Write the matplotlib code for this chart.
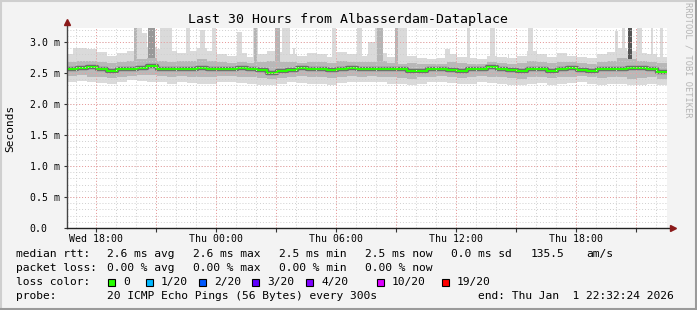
import numpy as np
import matplotlib
matplotlib.use('Agg')
import matplotlib.pyplot as plt
from matplotlib.patches import Rectangle
from matplotlib.lines import Line2D

# --- data: 30 hours in 0.5 h bins, values in ms ---
median = [2.56, 2.58, 2.60, 2.57, 2.54, 2.56, 2.56, 2.58, 2.61, 2.57, 2.56, 2.56, 2.57, 2.58, 2.56, 2.56,
          2.57, 2.58, 2.56, 2.55, 2.50, 2.54, 2.55, 2.58, 2.57, 2.56, 2.55, 2.57, 2.58, 2.57,
          2.56, 2.57, 2.56, 2.56, 2.53, 2.54, 2.56, 2.56, 2.55, 2.54, 2.57, 2.56, 2.60, 2.56, 2.55,
          2.54, 2.56, 2.57, 2.53, 2.57, 2.58, 2.55, 2.54, 2.57, 2.57, 2.56, 2.58, 2.58, 2.56, 2.52]
light_hi = [2.80, 2.90, 2.88, 2.84, 2.78, 2.82, 2.86, 2.90, 2.92, 2.88, 2.85, 2.83, 2.86, 2.90, 2.85, 2.80,
            2.78, 2.82, 2.76, 2.80, 2.86, 2.84, 2.80, 2.78, 2.82, 2.80, 2.76, 2.84, 2.80, 2.78,
            2.80, 2.82, 2.76, 2.74, 2.78, 2.75, 2.72, 2.74, 2.80, 2.76, 2.74, 2.72, 2.78, 2.76, 2.74,
            2.78, 2.86, 2.80, 2.76, 2.82, 2.78, 2.76, 2.74, 2.80, 2.84, 2.90, 2.86, 2.82, 2.80, 2.76]
mid_hi = [2.68, 2.70, 2.69, 2.67, 2.66, 2.68, 2.70, 2.72, 2.74, 2.70, 2.68, 2.69, 2.70, 2.72, 2.69, 2.67,
          2.66, 2.68, 2.66, 2.67, 2.70, 2.68, 2.67, 2.66, 2.68, 2.67, 2.66, 2.69, 2.68, 2.67,
          2.68, 2.69, 2.66, 2.65, 2.66, 2.65, 2.64, 2.65, 2.67, 2.66, 2.65, 2.64, 2.67, 2.66, 2.65,
          2.66, 2.70, 2.67, 2.66, 2.68, 2.67, 2.66, 2.65, 2.67, 2.70, 2.74, 2.72, 2.69, 2.68, 2.66]
mid_lo = [2.45, 2.46, 2.44, 2.43, 2.42, 2.44, 2.45, 2.46, 2.47, 2.45, 2.44, 2.45, 2.44, 2.43, 2.44, 2.45,
          2.45, 2.44, 2.43, 2.42, 2.40, 2.42, 2.44, 2.45, 2.44, 2.43, 2.42, 2.44, 2.45, 2.44,
          2.45, 2.44, 2.43, 2.42, 2.41, 2.43, 2.44, 2.45, 2.43, 2.42, 2.44, 2.45, 2.44, 2.43, 2.42,
          2.41, 2.43, 2.44, 2.42, 2.43, 2.44, 2.45, 2.43, 2.42, 2.44, 2.43, 2.41, 2.42, 2.43, 2.40]
light_lo = [2.36, 2.37, 2.35, 2.34, 2.33, 2.36, 2.38, 2.37, 2.36, 2.35, 2.33, 2.35, 2.34, 2.32, 2.33, 2.35,
            2.36, 2.34, 2.32, 2.30, 2.31, 2.33, 2.35, 2.34, 2.33, 2.32, 2.31, 2.34, 2.36, 2.35,
            2.36, 2.35, 2.33, 2.32, 2.31, 2.33, 2.35, 2.36, 2.34, 2.32, 2.33, 2.35, 2.34, 2.32, 2.31,
            2.30, 2.32, 2.34, 2.31, 2.33, 2.34, 2.36, 2.33, 2.31, 2.33, 2.32, 2.30, 2.31, 2.33, 2.31]

# tall outlier columns: (start hour, end hour, top ms, shade)
spikes = [(0.30, 0.90, 2.90, 'l'), (3.35, 3.75, 3.25, 'l'), (3.35, 3.50, 3.25, 'm'),
          (3.75, 4.00, 3.15, 'l'), (4.05, 4.40, 3.25, 'd'), (4.65, 5.25, 3.25, 'l'),
          (5.95, 6.15, 3.25, 'l'), (6.65, 6.90, 3.20, 'l'), (7.25, 7.45, 3.25, 'l'),
          (8.50, 8.75, 3.16, 'l'), (9.30, 9.55, 3.25, 'l'), (9.35, 9.50, 3.25, 'm'),
          (10.40, 10.65, 3.25, 'm'), (10.75, 11.15, 3.25, 'l'), (11.30, 11.40, 2.90, 'l'),
          (13.25, 13.45, 3.25, 'l'), (14.50, 14.75, 3.25, 'l'), (15.05, 15.40, 3.00, 'l'),
          (15.40, 15.80, 3.25, 'l'), (15.50, 15.80, 3.25, 'm'), (16.40, 16.55, 3.25, 'm'),
          (16.55, 17.00, 3.25, 'l'), (18.90, 19.15, 2.88, 'l'), (20.00, 20.15, 3.25, 'l'),
          (21.15, 21.40, 3.25, 'l'), (22.05, 22.10, 2.80, 'l'), (23.05, 23.30, 3.25, 'l'),
          (27.40, 27.55, 3.17, 'l'), (27.75, 27.90, 3.25, 'l'), (28.05, 28.25, 3.25, 'k'),
          (28.50, 28.75, 3.25, 'l'), (29.20, 29.30, 3.25, 'l'), (29.65, 29.80, 3.25, 'l')]

# start is Wed 16:32:24, first full hour 17:00 -> 0.46 h
first_hour = 0.46
x_labels = ['Wed 18:00', 'Thu 00:00', 'Thu 06:00', 'Thu 12:00', 'Thu 18:00']
y_ticks = [0.0, 0.5, 1.0, 1.5, 2.0, 2.5, 3.0]
y_labels = ['0.0', '0.5 m', '1.0 m', '1.5 m', '2.0 m', '2.5 m', '3.0 m']

loss_labels = ['0', '1/20', '2/20', '3/20', '4/20', '10/20', '19/20']
loss_colors = ['#26ff00', '#00b8ff', '#0059ff', '#5e00ff', '#7e00ff', '#dd00ff', '#ff0000']

W, H = 697, 310
def fx(px):
    return px / W
def fy(py):
    return 1 - py / H

mono = 'DejaVu Sans Mono'
fig = plt.figure(figsize=(W / 100, H / 100), dpi=100, facecolor='#f3f3f3')
ax = fig.add_axes([fx(67), fy(228), 600 / W, 200 / H])
ax.set_facecolor('white')

edges = np.arange(len(median) + 1) * 0.5
ext = lambda a: np.append(a, a[-1])
shades = {'l': '#dadada', 'm': '#b5b5b5', 'd': '#999999', 'k': '#555555'}

ax.fill_between(edges, ext(light_lo), ext(light_hi), step='post', color='#dadada', lw=0, zorder=1)
for h0, h1, top, s in spikes:
    ax.bar(h0, top - 2.6, width=h1 - h0, bottom=2.6, align='edge', color=shades[s], lw=0, zorder=1.5)
ax.fill_between(edges, ext(mid_lo), ext(mid_hi), step='post', color='#b8b8b8', lw=0, zorder=2)
ax.step(edges, ext(median), where='post', color='#6e6e6e', lw=3.2, zorder=3)
ax.step(edges, ext(median), where='post', color='#26ff00', lw=1.5, zorder=4)

ax.set_xlim(0, 30)
ax.set_ylim(0, 3.226)

# grid
minor_x = np.arange(first_hour, 30, 1.0)
major_x = np.arange(first_hour + 1, 30, 3.0)
for xv in minor_x:
    ax.axvline(xv, color='#cfcfcf', lw=0.7, ls=(0, (1, 2)), zorder=5)
for yv in np.arange(0.1, 3.25, 0.1):
    ax.axhline(yv, color='#cfcfcf', lw=0.7, ls=(0, (1, 2)), zorder=5)
for xv in major_x:
    ax.axvline(xv, color='#eb9a9a', lw=0.7, ls=(0, (1, 2)), zorder=6)
for yv in y_ticks[1:]:
    ax.axhline(yv, color='#eb9a9a', lw=0.7, ls=(0, (1, 2)), zorder=6)

for sp in ax.spines.values():
    sp.set_visible(False)
ax.plot([0, 0], [0, 3.3], color='#444444', lw=1, clip_on=False, zorder=7)
ax.plot([0, 30.3], [0, 0], color='#222222', lw=1, clip_on=False, zorder=7)
ax.plot([0], [3.33], marker='^', ms=4, color='#8b1a1a', clip_on=False, zorder=8)
ax.plot([30.3], [0], marker='>', ms=4, color='#8b1a1a', clip_on=False, zorder=8)

ax.set_xticks(major_x, [x_labels[i // 2] if i % 2 == 0 else '' for i in range(len(major_x))])
ax.set_yticks(y_ticks, y_labels)
ax.tick_params(axis='x', length=3, width=0.8, color='#333333', pad=1.5, labelsize=7.1)
ax.tick_params(axis='y', length=2, width=0.8, color='#333333', pad=25, labelsize=7.1)
for lb in ax.get_xticklabels() + ax.get_yticklabels():
    lb.set_fontfamily(mono)
for lb in ax.get_yticklabels():
    lb.set_horizontalalignment('left')

fig.text(fx(348), fy(19), 'Last 30 Hours from Albasserdam-Dataplace', ha='center', va='center',
         fontsize=9.5, family=mono)
fig.text(fx(10), fy(128), 'Seconds', rotation=90, ha='center', va='center', fontsize=8, family=mono)
fig.text(fx(688), fy(60), 'RRDTOOL / TOBI OETIKER', rotation=270, ha='center', va='center',
         fontsize=6.2, family=mono, color='#b5b5b5')

fs = 8.1
rows = [
    (254, [(16, 'median rtt:'), (107, '2.6 ms avg'), (193, '2.6 ms max'), (279, '2.5 ms min'),
           (365, '2.5 ms now'), (451, '0.0 ms sd'), (531, '135.5'), (586, 'am/s')]),
    (268, [(16, 'packet loss:'), (107, '0.00 % avg'), (193, '0.00 % max'), (279, '0.00 % min'),
           (365, '0.00 % now')]),
    (282, [(16, 'loss color:')]),
    (296, [(16, 'probe:'), (107, '20 ICMP Echo Pings (56 Bytes) every 300s'),
           (478, 'end: Thu Jan  1 22:32:24 2026')]),
]
for y, items in rows:
    for x, t in items:
        fig.text(fx(x), fy(y), t, ha='left', va='center', fontsize=fs, family=mono)

box_x = [108, 146, 199, 252, 306, 377, 442]
for bx, lab, col in zip(box_x, loss_labels, loss_colors):
    fig.add_artist(Rectangle((fx(bx), fy(285.5)), 7 / W, 7 / H, transform=fig.transFigure,
                             facecolor=col, edgecolor='black', lw=0.8))
    fig.text(fx(bx + 15), fy(282), lab, ha='left', va='center', fontsize=fs, family=mono)

# frame
fig.add_artist(Line2D([0, 1], [fy(1), fy(1)], transform=fig.transFigure, color='#cfcfcf', lw=1.5))
fig.add_artist(Line2D([fx(1), fx(1)], [0, 1], transform=fig.transFigure, color='#cfcfcf', lw=1.5))
fig.add_artist(Line2D([0, 1], [fy(309), fy(309)], transform=fig.transFigure, color='#9a9a9a', lw=1.5))
fig.add_artist(Line2D([fx(696), fx(696)], [0, 1], transform=fig.transFigure, color='#9a9a9a', lw=1.5))

fig.savefig('out.png', dpi=100, facecolor=fig.get_facecolor())
